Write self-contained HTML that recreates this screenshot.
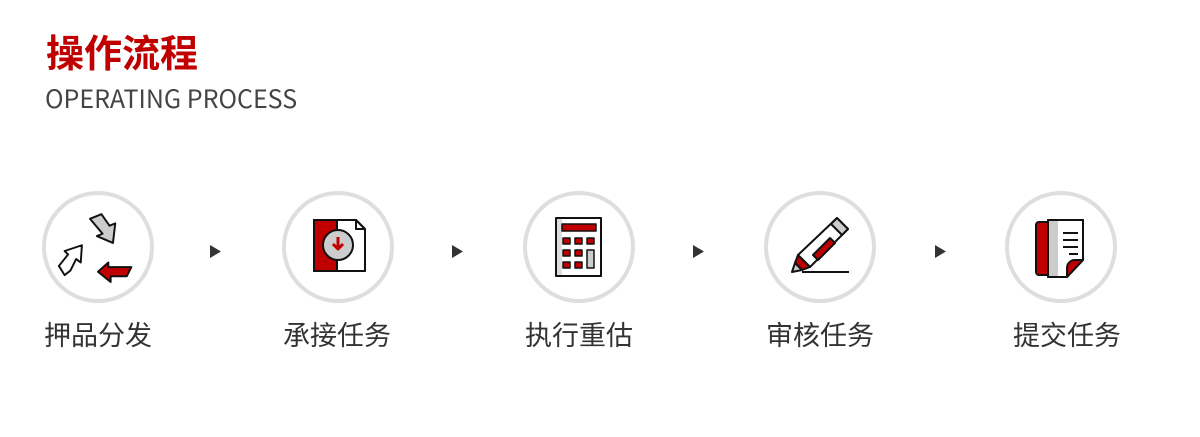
<!DOCTYPE html>
<html><head><meta charset="utf-8"><style>
body{margin:0;width:1200px;height:437px;background:#fff;overflow:hidden;font-family:"Liberation Sans","Noto Sans CJK SC",sans-serif}
</style></head><body>
<svg width="1200" height="437" xmlns="http://www.w3.org/2000/svg" style="position:absolute;left:0;top:0">
<text x="46" y="67" font-family="Noto Sans CJK SC,sans-serif" font-size="38" font-weight="bold" fill="#c00000">操作流程</text>
<text x="45" y="108" font-family="Noto Sans CJK SC,Liberation Sans,sans-serif" font-size="25" fill="#444">OPERATING PROCESS</text>
<g fill="none" stroke="#dedede" stroke-width="4">
<circle cx="98" cy="247" r="54"/><circle cx="338" cy="247" r="54"/><circle cx="579" cy="247" r="54"/><circle cx="820" cy="247" r="54"/><circle cx="1061" cy="247" r="54"/>
</g>
<g fill="#333"><path d="M210 245v13l11-6.5z"/><path d="M452 245v13l11-6.5z"/><path d="M693 245v13l11-6.5z"/><path d="M935 245v13l11-6.5z"/></g>
<g font-family="Noto Sans CJK SC,sans-serif" font-size="27" fill="#333" text-anchor="middle">
<text x="98" y="345">押品分发</text><text x="337" y="345">承接任务</text><text x="579" y="345">执行重估</text><text x="820" y="345">审核任务</text><text x="1067" y="345">提交任务</text>
</g>
<g stroke="#111" stroke-width="2" stroke-linejoin="round">
<!-- icon1 -->
<g transform="translate(98,251) scale(1.15) translate(-97,-245)">
<path d="M90 217l10-4 7 10 5-2-2 17-14-6 5-2z" fill="#ccc" stroke-width="1.7"/>
<path d="M68 266l-5-8 8-10-3-3 15-5-1 15-4-3-5 10z" fill="#fff" stroke-width="1.7"/>
<path d="M97 263l9-8 0 4 20 0-4 8-14 0 0 5z" fill="#c00000" stroke-width="1.7"/>
</g>
<!-- icon2 -->
<path d="M314 220h42l9 9v42h-51z" fill="#fff"/>
<rect x="314" y="220" width="23" height="51" fill="#c00000"/>
<path d="M314 220h42l9 9v42h-51z" fill="none"/>
<path d="M356 220v9h9" fill="none"/>
<circle cx="338" cy="245" r="15" fill="#ccc"/>
<path d="M338 237v10M333 244l5 5 5-5" fill="none" stroke="#c00000" stroke-width="3"/>
<!-- icon3 -->
<rect x="556" y="218" width="45" height="58" fill="#fff"/>
<rect x="557" y="219" width="5" height="56" fill="#ddd" stroke="none"/>
<rect x="562" y="224" width="34" height="7" fill="#c00000" stroke-width="1.5"/>
<g fill="#c00000" stroke-width="1.5">
<rect x="563" y="238" width="7" height="6"/><rect x="575" y="238" width="7" height="6"/><rect x="587" y="238" width="7" height="6"/>
<rect x="563" y="250" width="7" height="6"/><rect x="575" y="250" width="7" height="6"/>
<rect x="563" y="262" width="7" height="6"/><rect x="575" y="262" width="7" height="6"/>
</g>
<rect x="587" y="250" width="7" height="18" fill="#ccc" stroke-width="1.5"/>
<!-- icon4 -->
<path d="M837 218l11 11-38 38-12-12z" fill="#fff"/>
<path d="M837 218l11 11-6 6-11-11z" fill="#ccc"/>
<path d="M798 255l12 12-8 3-7-7z" fill="#c00000"/>
<path d="M795 263l7 7-10 2z" fill="#ccc"/>
<path d="M830 238l5 5-17 17-5-5z" fill="#c00000"/>
<path d="M802 272h47" fill="none"/>
<!-- icon5 -->
<rect x="1036" y="222" width="14" height="53" rx="3" fill="#c00000"/>
<path d="M1048 220h35v40l-16 17h-19z" fill="#fff"/>
<rect x="1049" y="221" width="9" height="55" fill="#ccc" stroke="none"/>
<path d="M1048 220h35v40l-16 17h-19z" fill="none"/>
<path d="M1083 260l-16 17v-9a8 8 0 0 1 8-8z" fill="#c00000"/>
<path d="M1063 233h15M1063 240h15M1063 247h15M1069 254h9" fill="none" stroke-width="2"/>
</g>
</svg>
</body></html>
